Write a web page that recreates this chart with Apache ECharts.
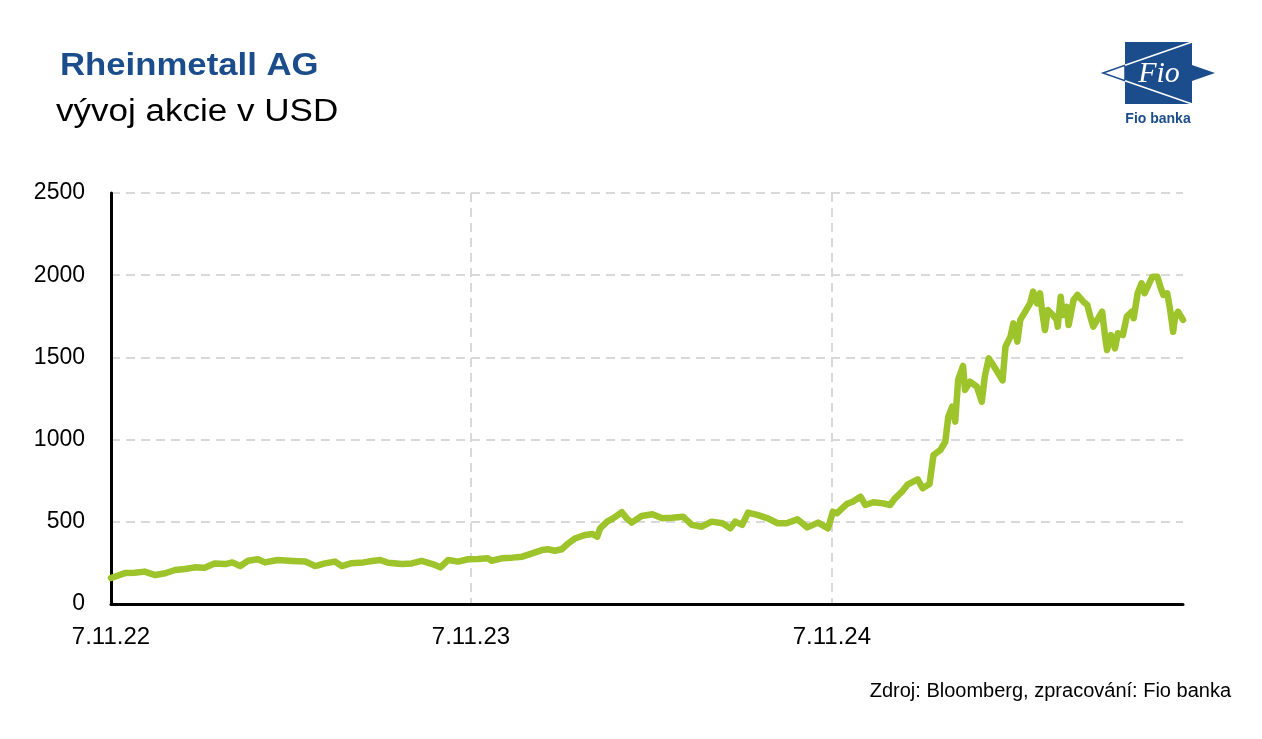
<!DOCTYPE html>
<html>
<head>
<meta charset="utf-8">
<script src="https://cdn.jsdelivr.net/npm/echarts@6/dist/echarts.min.js"></script>
<style>
html,body{margin:0;padding:0;background:#fff;}
#chart{width:1262px;height:739px;}
</style>
</head>
<body>
<div id="chart"></div>
<script>
const titleText = 'Rheinmetall AG';
const subtitleText = 'vývoj akcie v USD';
const sourceText = 'Zdroj: Bloomberg, zpracování: Fio banka';
const axisStart = '2022-11-07';
const axisEnd = '2025-10-29';
const tickDates = ['2022-11-07', '2023-11-07', '2024-11-07'];
const tickLabels = ['7.11.22', '7.11.23', '7.11.24'];
const yTicks = [0, 500, 1000, 1500, 2000, 2500];

const dates = ['2022-11-07','2022-11-21','2022-12-01','2022-12-11','2022-12-22','2023-01-01','2023-01-11','2023-01-21','2023-01-31','2023-02-10',
'2023-02-20','2023-03-03','2023-03-10','2023-03-18','2023-03-26','2023-04-05','2023-04-12','2023-04-25','2023-05-10','2023-05-23',
'2023-06-02','2023-06-12','2023-06-22','2023-06-29','2023-07-09','2023-07-21','2023-07-26','2023-08-07','2023-08-15','2023-08-29',
'2023-09-08','2023-09-18','2023-09-29','2023-10-07','2023-10-15','2023-10-25','2023-11-04','2023-11-14','2023-11-24','2023-11-28',
'2023-12-08','2023-12-19','2023-12-29','2024-01-08','2024-01-18','2024-01-24','2024-01-31','2024-02-07','2024-02-13','2024-02-21',
'2024-03-02','2024-03-09','2024-03-14','2024-03-17','2024-03-24','2024-03-30','2024-04-08','2024-04-13','2024-04-18','2024-04-28',
'2024-05-09','2024-05-19','2024-05-29','2024-06-09','2024-06-18','2024-06-28','2024-07-08','2024-07-19','2024-07-27','2024-08-01',
'2024-08-08','2024-08-14','2024-08-24','2024-09-03','2024-09-13','2024-09-22','2024-10-03','2024-10-13','2024-10-24','2024-11-03',
'2024-11-08','2024-11-12','2024-11-22','2024-11-28','2024-12-06','2024-12-11','2024-12-19','2024-12-29','2025-01-05','2025-01-10',
'2025-01-17','2025-01-23','2025-02-02','2025-02-07','2025-02-14','2025-02-18','2025-02-25','2025-03-02','2025-03-05','2025-03-09',
'2025-03-12','2025-03-15','2025-03-20','2025-03-22','2025-03-27','2025-04-03','2025-04-08','2025-04-11','2025-04-15','2025-04-23',
'2025-04-29','2025-05-02','2025-05-07','2025-05-10','2025-05-14','2025-05-17','2025-05-22','2025-05-27','2025-05-30','2025-06-03',
'2025-06-06','2025-06-08','2025-06-11','2025-06-14','2025-06-19','2025-06-23','2025-06-24','2025-06-27','2025-06-29','2025-07-03',
'2025-07-05','2025-07-10','2025-07-14','2025-07-20','2025-07-24','2025-07-27','2025-07-30','2025-08-03','2025-08-08','2025-08-11',
'2025-08-13','2025-08-17','2025-08-21','2025-08-24','2025-08-29','2025-09-02','2025-09-07','2025-09-09','2025-09-13','2025-09-17',
'2025-09-20','2025-09-24','2025-09-28','2025-10-03','2025-10-06','2025-10-09','2025-10-13','2025-10-16','2025-10-19','2025-10-21',
'2025-10-24','2025-10-29'];

const prices = [158,188,190,197,176,187,207,213,223,221,
247,243,253,231,263,272,253,268,262,258,
231,247,258,231,248,253,258,268,251,243,
247,262,243,223,268,258,272,274,278,263,
278,282,288,308,328,333,324,333,365,400,
420,426,410,460,501,521,558,521,495,535,
546,521,525,531,481,470,501,491,460,501,
481,556,541,521,491,491,515,466,495,460,
561,552,608,622,653,602,619,612,602,643,
683,728,758,704,730,906,937,987,1139,1200,
1109,1363,1448,1302,1352,1322,1231,1383,1494,1420,
1360,1565,1626,1707,1596,1728,1778,1829,1900,1829,
1890,1788,1667,1788,1758,1728,1687,1869,1758,1808,
1697,1849,1880,1839,1819,1748,1687,1728,1778,1626,
1545,1636,1555,1647,1636,1748,1778,1738,1890,1951,
1890,1941,1991,1991,1930,1880,1890,1788,1656,1748,
1778,1728];

function toTime(s) {
  const p = s.split('-').map(Number);
  return new Date(p[0], p[1] - 1, p[2]).getTime();
}

const chart = echarts.init(document.getElementById('chart'), null, {renderer: 'canvas'});
const tickTimes = tickDates.map(toTime);
const labelByTime = {};
tickTimes.forEach((t, i) => { labelByTime[t] = tickLabels[i]; });
const seriesData = dates.map((d, i) => [toTime(d), prices[i]]);

const FONT = '"Liberation Sans", Arial, sans-serif';
const BLUE = '#1b4d8c';
const gridStyle = {color: '#d9d9d9', width: 2, type: [9, 6]};

const option = {
  animation: false,
  backgroundColor: '#ffffff',
  grid: {left: 111, right: 79, top: 193, bottom: 135, containLabel: false, outerBoundsMode: 'none'},
  xAxis: {
    type: 'value',
    min: toTime(axisStart),
    max: toTime(axisEnd),
    axisLine: {show: true, onZero: false, lineStyle: {color: '#000', width: 3}},
    axisTick: {show: false, customValues: tickTimes},
    axisLabel: {
      customValues: tickTimes,
      formatter: v => labelByTime[v] || '',
      color: '#000', fontSize: 24, fontFamily: FONT, margin: 21
    },
    splitLine: {show: true, lineStyle: gridStyle}
  },
  yAxis: {
    type: 'value',
    min: yTicks[0],
    max: yTicks[yTicks.length - 1],
    interval: 500,
    axisLine: {show: true, onZero: false, lineStyle: {color: '#000', width: 3}},
    axisTick: {show: false},
    axisLabel: {formatter: v => String(v), color: '#000', fontSize: 23, fontFamily: FONT, margin: 26},
    splitLine: {show: true, lineStyle: gridStyle}
  },
  series: [{
    type: 'line',
    data: seriesData,
    showSymbol: false,
    symbol: 'none',
    lineStyle: {color: '#9dc42b', width: 6.5, join: 'round', cap: 'round'},
    z: 5
  }],
  graphic: [
    {type: 'text', x: 60, y: 66, scaleX: 1.12, style: {text: titleText, font: 'bold 31px ' + FONT, fill: BLUE, verticalAlign: 'middle', align: 'left'}},
    {type: 'text', x: 56, y: 112, scaleX: 1.13, style: {text: subtitleText, font: '31px ' + FONT, fill: '#000', verticalAlign: 'middle', align: 'left'}},
    {type: 'text', x: 1231, y: 691, style: {text: sourceText, font: '20px ' + FONT, fill: '#000', verticalAlign: 'middle', align: 'right'}},
    {type: 'polygon', shape: {points: [[1125,42],[1192,42],[1192,65],[1215,73],[1192,81],[1192,104],[1125,104]]}, style: {fill: BLUE}},
    {type: 'polygon', shape: {points: [[1103,73],[1125,65.3],[1125,80.7]]}, style: {fill: '#fff', stroke: BLUE, lineWidth: 1.5}},
    {type: 'polyline', shape: {points: [[1125,65.3],[1192,42]]}, style: {stroke: '#fff', lineWidth: 1.5}},
    {type: 'polyline', shape: {points: [[1125,80.7],[1192,104]]}, style: {stroke: '#fff', lineWidth: 1.5}},
    {type: 'text', x: 1159, y: 74, style: {text: 'Fio', font: 'italic 30px "Liberation Serif", "DejaVu Serif", serif', fill: '#fff', verticalAlign: 'middle', align: 'center'}},
    {type: 'text', x: 1158, y: 119, style: {text: 'Fio banka', font: 'bold 14px ' + FONT, fill: BLUE, verticalAlign: 'middle', align: 'center'}}
  ]
};
chart.setOption(option);
</script>
</body>
</html>
